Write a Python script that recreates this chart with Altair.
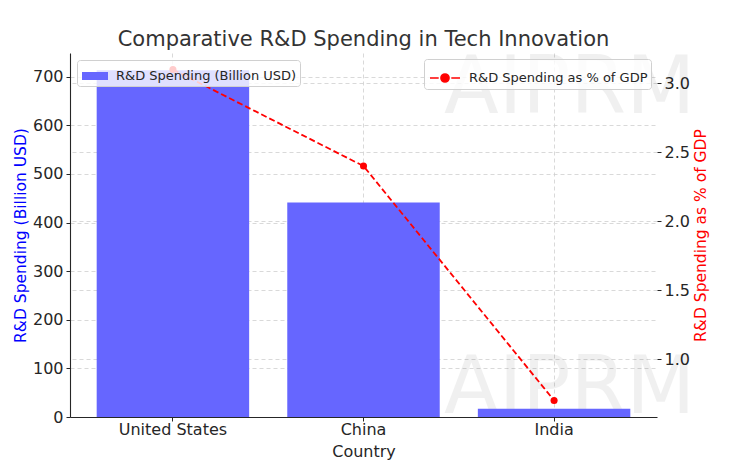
import altair as alt
import pandas as pd

countries = ["United States", "China", "India"]
spending_busd = [713, 441, 17]
pct_gdp = [3.1, 2.4, 0.7]

left_ticks = [0, 100, 200, 300, 400, 500, 600, 700]
right_ticks = [1.0, 1.5, 2.0, 2.5, 3.0]

bar_label = "R&D Spending (Billion USD)"
line_label = "R&D Spending as % of GDP"

df = pd.DataFrame({
    "Country": countries,
    "Spending": spending_busd,
    "Pct": pct_gdp,
    "bar_series": [bar_label] * 3,
    "line_series": [line_label] * 3,
})

FONT = "DejaVu Sans"
DARK = "#262626"
GRID = "#cfcfcf"

x_enc = alt.X(
    "Country:N",
    sort=countries,
    title="Country",
    scale=alt.Scale(paddingInner=0.2, paddingOuter=0.14),
    axis=alt.Axis(
        labelAngle=0, grid=True, gridColor=GRID, gridDash=[4, 3], gridWidth=0.8,
        tickSize=4, labelPadding=0, titlePadding=6,
    ),
)

bars = alt.Chart(df).mark_bar(opacity=1).encode(
    x=x_enc,
    y=alt.Y(
        "Spending:Q",
        title=bar_label,
        scale=alt.Scale(domain=[0, 748.65], nice=False, zero=True),
        axis=alt.Axis(
            values=left_ticks, orient="left", titleColor="blue", grid=True,
            gridColor=GRID, gridDash=[4, 3], gridWidth=0.8, tickSize=4,
            titlePadding=4, labelPadding=3, titleFontSize=15.5,
        ),
    ),
    color=alt.Color(
        "bar_series:N",
        scale=alt.Scale(domain=[bar_label], range=["#6666ff"]),
        legend=alt.Legend(
            title=None, orient="top-left", offset=7,
            symbolType="M-1,-0.31H1V0.31H-1Z", symbolSize=676,
            symbolStrokeWidth=0, symbolOpacity=1,
        ),
    ),
)

right_scale = alt.Scale(domain=[0.58, 3.22], nice=False, zero=False)
right_axis = alt.Axis(
    values=right_ticks, format=".1f", orient="right", titleColor="red",
    grid=True, gridColor=GRID, gridDash=[4, 3], gridWidth=0.8, domain=False,
    tickSize=4, titlePadding=4, labelPadding=3, titleAngle=270,
    titleBaseline="top", titleFontSize=15.5,
)

line = alt.Chart(df).mark_line(strokeDash=[6, 3], strokeWidth=1.8).encode(
    x=alt.X("Country:N", sort=countries),
    y=alt.Y("Pct:Q", title=line_label, scale=right_scale, axis=right_axis),
    stroke=alt.Stroke(
        "line_series:N",
        scale=alt.Scale(domain=[line_label], range=["red"]),
        legend=alt.Legend(
            title=None, orient="top-right", offset=6,
            symbolType="M-1,0H-0.42M0.42,0H1M-0.27,0A0.27,0.27,0,1,1,0.27,0A0.27,0.27,0,1,1,-0.27,0Z",
            symbolSize=900, symbolFillColor="red", symbolStrokeWidth=1.6,
        ),
    ),
)

points = alt.Chart(df).mark_point(filled=True, size=50, color="red", opacity=1).encode(
    x=alt.X("Country:N", sort=countries),
    y=alt.Y("Pct:Q", title=line_label, scale=right_scale, axis=right_axis),
)

wm = pd.DataFrame({"t": ["AIPRM"]})
wm_top = alt.Chart(wm).mark_text(
    font=FONT, fontSize=80, color="#000000", opacity=0.055, align="left", baseline="middle"
).encode(text="t:N", x=alt.value(374), y=alt.value(36))
wm_bot = alt.Chart(wm).mark_text(
    font=FONT, fontSize=80, color="#000000", opacity=0.055, align="left", baseline="middle"
).encode(text="t:N", x=alt.value(374), y=alt.value(336))

left_layer = alt.layer(wm_top, wm_bot, bars)
right_layer = alt.layer(line, points)

chart = alt.layer(left_layer, right_layer).resolve_scale(
    y="independent", color="independent", stroke="independent"
).resolve_legend(color="independent", stroke="independent").properties(
    width=587,
    height=364,
    title=alt.TitleParams(
        "Comparative R&D Spending in Tech Innovation",
        fontSize=21, font=FONT, color="#333333", fontWeight="normal",
        anchor="middle", offset=3, dy=4,
    ),
    autosize=alt.AutoSizeParams(type="none"),
    padding={"left": 62, "top": 45, "right": 60, "bottom": 48},
).configure_view(stroke=None).configure_axis(
    labelFont=FONT, titleFont=FONT, labelFontSize=16, titleFontSize=16,
    labelColor=DARK, titleColor=DARK, tickColor=DARK, domainColor=DARK,
    titleFontWeight="normal", domainWidth=1.1, tickWidth=1,
).configure_legend(
    labelFont=FONT, labelFontSize=13.0, labelColor=DARK, labelLimit=400,
    fillColor="rgba(255,255,255,0.8)", strokeColor="#d0d0d0", cornerRadius=3,
    padding=3, labelOffset=8, symbolOffset=2,
)

chart.save("out.html", embed_options={"renderer": "svg", "actions": False})
